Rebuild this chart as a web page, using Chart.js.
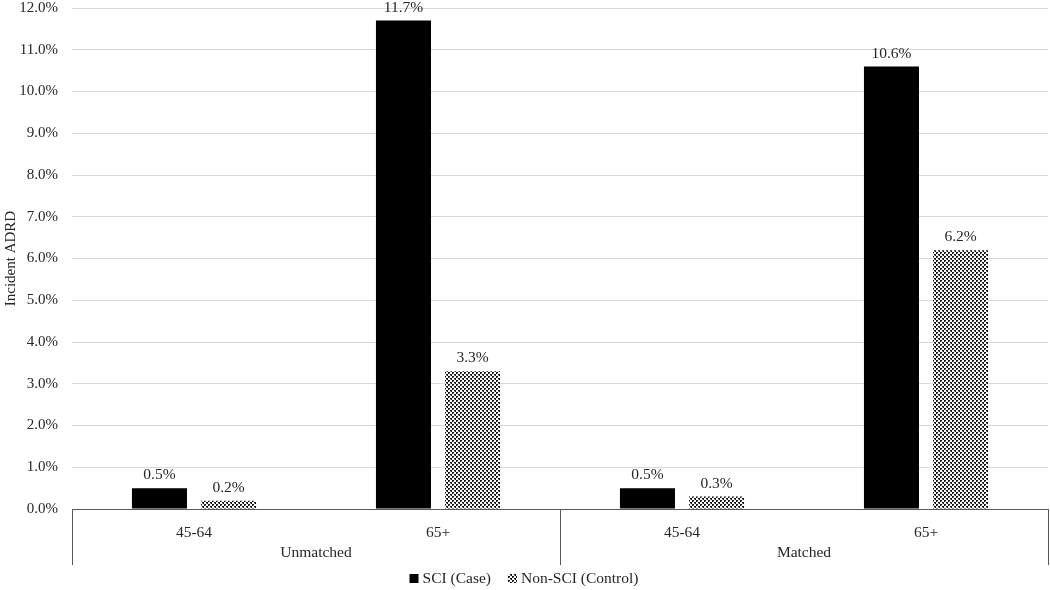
<!DOCTYPE html>
<html>
<head>
<meta charset="utf-8">
<script src="https://cdn.jsdelivr.net/npm/chart.js@4.4.1/dist/chart.umd.min.js"></script>
<style>
html,body{margin:0;padding:0;background:#fff;}
#wrap{width:1050px;height:590px;position:relative;}
</style>
</head>
<body>
<div id="wrap"><canvas id="c" width="1050" height="590"></canvas></div>
<script>
const categories = ['45-64', '65+', '45-64', '65+'];
const groups = ['Unmatched', 'Matched'];
const sciCase = [0.5, 11.7, 0.5, 10.6];
const nonSciControl = [0.2, 3.3, 0.3, 6.2];
const seriesNames = ['SCI (Case)', 'Non-SCI (Control)'];
const yTicks = [0,1,2,3,4,5,6,7,8,9,10,11,12];

const FONT = '"Liberation Serif", "Times New Roman", serif';
const TXT = '#262626';

function makePattern() {
  const rows = [
    'DDww',
    'Dgww',
    'wwDD',
    'wwgD'
  ];
  const t = document.createElement('canvas');
  t.width = 4; t.height = 4;
  const g = t.getContext('2d');
  g.fillStyle = '#ffffff';
  g.fillRect(0,0,4,4);
  for (let y = 0; y < 4; y++) for (let x = 0; x < 4; x++) {
    const c = rows[y][x];
    if (c === 'D') { g.fillStyle = '#151515'; g.fillRect(x, y, 1, 1); }
    else if (c === 'g') { g.fillStyle = '#8a8a8a'; g.fillRect(x, y, 1, 1); }
  }
  return document.getElementById('c').getContext('2d').createPattern(t, 'repeat');
}
const pat = makePattern();

const extras = {
  id: 'extras',
  afterDraw(chart) {
    const ctx = chart.ctx;
    const xs = chart.scales.x;
    const area = chart.chartArea;
    ctx.save();
    // data labels
    ctx.font = '15.5px ' + FONT;
    ctx.fillStyle = TXT;
    ctx.textAlign = 'center';
    ctx.textBaseline = 'middle';
    chart.data.datasets.forEach((ds, di) => {
      const meta = chart.getDatasetMeta(di);
      meta.data.forEach((bar, i) => {
        ctx.fillText(ds.data[i].toFixed(1) + '%', bar.x, bar.y - 13);
      });
    });
    // dividers
    ctx.strokeStyle = '#595959';
    ctx.lineWidth = 1;
    const divs = [area.left, (xs.getPixelForValue(1) + xs.getPixelForValue(2)) / 2, area.right];
    divs.forEach(x => {
      const xx = Math.round(x) + 0.5;
      ctx.beginPath();
      ctx.moveTo(xx, area.bottom);
      ctx.lineTo(xx, area.bottom + 56);
      ctx.stroke();
    });
    // group labels
    groups.forEach((g, gi) => {
      const cx = (xs.getPixelForValue(gi * 2) + xs.getPixelForValue(gi * 2 + 1)) / 2;
      ctx.fillText(g, cx, area.bottom + 44);
    });
    // legend
    const ly = 579;
    ctx.textAlign = 'left';
    const w1 = ctx.measureText(seriesNames[0]).width;
    const w2 = ctx.measureText(seriesNames[1]).width;
    const total = 13 + w1 + 17 + 13 + w2;
    let lx = 524 - total / 2;
    ctx.fillStyle = '#000';
    ctx.fillRect(lx, ly - 5, 9, 9);
    lx += 13;
    ctx.fillStyle = TXT;
    ctx.fillText(seriesNames[0], lx, ly);
    lx += w1 + 17;
    ctx.fillStyle = pat;
    ctx.fillRect(lx, ly - 5, 9, 9);
    lx += 13;
    ctx.fillStyle = TXT;
    ctx.fillText(seriesNames[1], lx, ly);
    ctx.restore();
  }
};

new Chart(document.getElementById('c'), {
  type: 'bar',
  data: {
    labels: categories,
    datasets: [
      { label: seriesNames[0], data: sciCase, backgroundColor: '#000000', borderWidth: 0 },
      { label: seriesNames[1], data: nonSciControl, backgroundColor: pat, borderWidth: 0 }
    ]
  },
  options: {
    responsive: false,
    animation: false,
    devicePixelRatio: 1,
    layout: { padding: { top: 8, right: 2, left: 0, bottom: 0 } },
    categoryPercentage: 0.566,
    barPercentage: 0.797,
    plugins: { legend: { display: false }, tooltip: { enabled: false } },
    scales: {
      x: {
        grid: { display: false, drawTicks: false },
        border: { display: true, color: '#595959', width: 1 },
        ticks: { font: { family: FONT, size: 15.5 }, color: TXT, padding: 15, maxRotation: 0 },
        afterFit(s) { s.height = 81; s.paddingLeft = 0; s.paddingRight = 0; }
      },
      y: {
        min: 0, max: 12,
        afterBuildTicks(s) { s.ticks = yTicks.map(v => ({ value: v })); },
        grid: { color: '#d9d9d9', drawTicks: false },
        border: { display: false },
        ticks: { font: { family: FONT, size: 15 }, color: TXT, padding: 14, callback: v => Number(v).toFixed(1) + '%' },
        title: { display: true, text: 'Incident ADRD', font: { family: FONT, size: 15 }, color: TXT, padding: { top: 2, bottom: 0 } },
        afterFit(s) { s.width = 72; s.paddingTop = 0; s.paddingBottom = 0; }
      }
    }
  },
  plugins: [extras]
});
</script>
</body>
</html>
